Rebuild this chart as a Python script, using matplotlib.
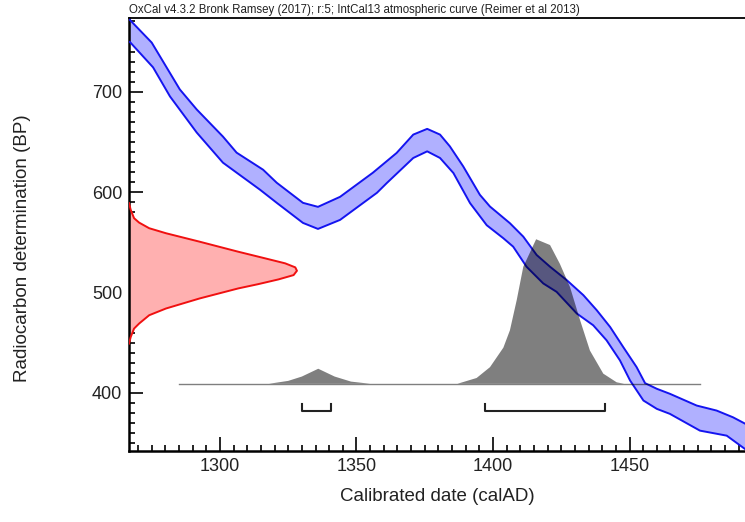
import numpy as np
import matplotlib.pyplot as plt
from matplotlib.ticker import MultipleLocator

plt.rcParams['font.family'] = ['Liberation Sans', 'DejaVu Sans']

# IntCal13 band, upper edge (calAD, BP)
upper_yr = [1267.0, 1275.0, 1285.3, 1291.5, 1301.1, 1306.1, 1315.8, 1320.8, 1330.4, 1335.9,
            1344.0, 1356.0, 1364.7, 1370.8, 1375.9, 1380.6, 1384.2, 1389.1, 1395.2, 1398.9,
            1406.2, 1411.1, 1416.0, 1420.9, 1427.0, 1433.1, 1438.0, 1442.9, 1447.7, 1452.6,
            1455.7, 1460.0, 1464.8, 1474.6, 1481.9, 1487.9, 1492.3]
upper_bp = [771.6, 749.0, 702.3, 682.3, 655.3, 639.3, 622.3, 609.3, 589.3, 585.3,
            595.3, 619.3, 639.0, 657.3, 663.0, 657.3, 645.6, 625.6, 597.3, 585.6,
            569.0, 555.6, 537.3, 525.6, 512.3, 497.3, 482.3, 465.6, 445.6, 425.6,
            409.6, 404.0, 399.0, 387.3, 382.3, 375.6, 369.3]

# IntCal13 band, lower edge
lower_yr = [1267.0, 1275.5, 1281.7, 1291.5, 1301.1, 1314.7, 1320.8, 1330.4, 1335.9, 1344.0,
            1357.5, 1361.1, 1370.8, 1375.9, 1380.6, 1385.5, 1391.6, 1397.7, 1403.8, 1407.4,
            1412.3, 1418.4, 1423.3, 1430.7, 1436.7, 1441.6, 1446.5, 1450.2, 1455.1, 1460.0,
            1464.8, 1475.8, 1485.6, 1492.3]
lower_bp = [749.6, 724.3, 695.3, 659.3, 629.3, 602.3, 589.3, 569.3, 563.3, 572.3,
            599.3, 609.0, 634.0, 640.6, 634.0, 619.0, 589.0, 567.0, 554.0, 545.6,
            525.6, 509.0, 500.6, 479.0, 467.3, 452.3, 432.3, 412.3, 392.3, 384.0,
            379.0, 362.3, 357.3, 344.0]

# radiocarbon determination (BP) and relative probability
c14_bp = [589, 582.3, 574, 569.6, 564, 559, 550.6, 540.6, 534, 529, 525, 521.6,
          517.3, 513, 508.3, 504, 494, 484, 477.3, 469, 464, 455.6, 449]
c14_prob = [0, 0.01, 0.03, 0.06, 0.12, 0.22, 0.42, 0.65, 0.81, 0.93, 0.99, 1.0,
            0.98, 0.89, 0.77, 0.65, 0.42, 0.22, 0.12, 0.06, 0.03, 0.01, 0]

# calibrated date distribution (calAD) and relative probability
cal_yr = [1285, 1318, 1325, 1330, 1336, 1342, 1348, 1355, 1387, 1394, 1398.9, 1403.8,
          1406.2, 1408.7, 1411.1, 1415.8, 1420.9, 1424.5, 1428.2, 1431.9, 1435.5, 1440.4,
          1445.3, 1448, 1476]
cal_prob = [0, 0, 0.02, 0.05, 0.104, 0.05, 0.015, 0, 0, 0.04, 0.115, 0.25,
            0.37, 0.58, 0.81, 1.0, 0.96, 0.83, 0.67, 0.44, 0.23, 0.07,
            0.01, 0, 0]

# 68.2% ranges
ranges = [(1330, 1340.5), (1397, 1441)]

title = 'OxCal v4.3.2 Bronk Ramsey (2017); r:5; IntCal13 atmospheric curve (Reimer et al 2013)'

fig = plt.figure(figsize=(7.45, 5.22), dpi=100)
ax = fig.add_axes([0.1732, 0.136, 0.8268, 0.8286])
xmin, xmax = 1266.7, 1492.3
ax.set_xlim(xmin, xmax)
ax.set_ylim(342, 773)

# calibration band
band_x = np.concatenate([upper_yr, lower_yr[::-1]])
band_y = np.concatenate([upper_bp, lower_bp[::-1]])
ax.fill(band_x, band_y, facecolor='#b0b0ff', edgecolor='none', zorder=2)
ax.plot(upper_yr, upper_bp, color='#1414f0', lw=1.4, zorder=3)
ax.plot(lower_yr, lower_bp, color='#1414f0', lw=1.4, zorder=3)

# radiocarbon date on the y axis
c14_w = np.array(c14_prob) * 61.5
ax.fill_betweenx(c14_bp, xmin, xmin + c14_w, facecolor='#ffb0b0', edgecolor='none', zorder=2)
ax.plot(xmin + c14_w, c14_bp, color='#f01010', lw=1.4, zorder=3)

# calibrated distribution
base = 409
cal_h = np.array(cal_prob) * 144
ax.fill_between(cal_yr, base, base + cal_h, facecolor='black', alpha=0.5, edgecolor='none', zorder=4)
ax.plot([cal_yr[0], cal_yr[-1]], [base, base], color='black', alpha=0.5, lw=1, zorder=4)

# range brackets
for a, b in ranges:
    ax.plot([a, a, b, b], [389, 382.3, 382.3, 389], color='#222222', lw=1.5, zorder=5)

for s in ['left', 'bottom']:
    ax.spines[s].set_linewidth(1.8)
ax.spines['top'].set_linewidth(1.3)
ax.spines['right'].set_visible(False)

ax.xaxis.set_major_locator(MultipleLocator(50))
ax.xaxis.set_minor_locator(MultipleLocator(5))
ax.yaxis.set_major_locator(MultipleLocator(100))
ax.yaxis.set_minor_locator(MultipleLocator(10))
ax.tick_params(which='both', direction='in', top=False, right=False, labelsize=13,
               labelcolor='#222222', width=1.2)
ax.tick_params(which='major', length=10, pad=5)
ax.tick_params(which='minor', length=4.5)

ax.set_xlabel('Calibrated date (calAD)', fontsize=13.5, color='#222222')
ax.set_ylabel('Radiocarbon determination (BP)', fontsize=13.5, color='#222222')
ax.xaxis.set_label_coords(0.5, -0.085)
ax.yaxis.set_label_coords(-0.159, 0.47)

ax.text(0, 1.006, title, transform=ax.transAxes, fontsize=8.3, color='#222222',
        ha='left', va='bottom')

fig.savefig('out.png', dpi=100)
